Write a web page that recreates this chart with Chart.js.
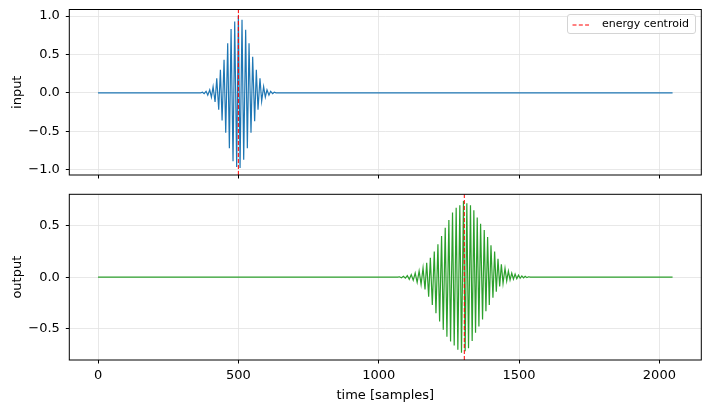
<!DOCTYPE html>
<html>
<head>
<meta charset="utf-8">
<script src="https://cdn.jsdelivr.net/npm/chart.js@4.4.0/dist/chart.umd.min.js"></script>
<style>
  html, body { margin: 0; padding: 0; background: #fff; }
  #wrap { position: relative; width: 710px; height: 412px; font-family: "DejaVu Sans", sans-serif; }
  #wrap canvas { position: absolute; left: 0; }
  #top { top: 0; }
  #bottom { top: 185px; }
  .legend { position: absolute; left: 567px; top: 14px; width: 129px; height: 20px; box-sizing: border-box;
            border: 1px solid #d4d4d4; border-radius: 3px; background: rgba(255,255,255,0.8); color: #000; }
  .legend svg { position: absolute; left: 4px; top: 9px; }
  .legend span { position: absolute; left: 34px; top: 2px; font-size: 11px; line-height: 14px; white-space: nowrap; }
</style>
</head>
<body>
<div id="wrap">
  <canvas id="top" width="710" height="185"></canvas>
  <canvas id="bottom" width="710" height="227"></canvas>
  <div class="legend">
    <svg width="18" height="2"><line x1="0.5" y1="1" x2="17" y2="1" stroke="#ff0000" stroke-width="1" stroke-dasharray="4 2.3"/></svg>
    <span>energy centroid</span>
  </div>
</div>
<script>
// time axis (samples)
const xRange = [-102.35, 2149.35];
const xTicks = [0, 500, 1000, 1500, 2000];

// input: turning points of the burst
const inputTimes = [0, 366, 372, 378, 385, 391, 398, 404, 410, 417, 423, 430, 436, 442, 449, 455, 462, 468, 474, 481, 487, 494,
  500, 506, 513, 519, 526, 532, 538, 545, 551, 558, 564, 570, 577, 583, 590, 596, 602, 609, 615, 622, 628, 634, 2047];
const inputValues = [0, 0, 0.007, -0.012, 0.02, -0.03, 0.04, -0.055, 0.08, -0.12, 0.19, -0.22, 0.30, -0.36, 0.43, -0.52, 0.645, -0.72, 0.83, -0.89, 0.93, -0.965,
  1.0, -0.98, 0.95, -0.87, 0.82, -0.72, 0.645, -0.52, 0.47, -0.37, 0.30, -0.22, 0.19, -0.11, 0.08, -0.055, 0.04, -0.03, 0.02, -0.012, 0.007, 0, 0];
const inputRange = [-1.07, 1.085];
const inputTicks = [-1, -0.5, 0, 0.5, 1];
const inputCentroid = 500;

// output: turning points of the delayed burst, bottom panel
const outputTimes = [0, 1068, 1074, 1081, 1088, 1095, 1102, 1109, 1116, 1123, 1130, 1137, 1144, 1151, 1158, 1165, 1171, 1178, 1184, 1191,
  1198, 1204, 1211, 1217, 1224, 1230, 1237, 1243, 1250, 1256, 1263, 1269, 1276, 1282, 1289, 1295, 1302, 1308, 1314, 1320,
  1327, 1333, 1339, 1345, 1351, 1357, 1363, 1370, 1376, 1382, 1388, 1394, 1400, 1407, 1413, 1419, 1425, 1431, 1437, 1443,
  1450, 1456, 1462, 1468, 1474, 1480, 1486, 1492, 1498, 1504, 1510, 1516, 1522, 1528, 1534, 1540, 2047];
const outputValues = [0, 0, 0.004, -0.005, 0.008, -0.010, 0.015, -0.020, 0.025, -0.030, 0.040, -0.050, 0.060, -0.070, 0.090, -0.12, 0.14, -0.19, 0.19, -0.27,
  0.25, -0.35, 0.32, -0.43, 0.40, -0.51, 0.48, -0.58, 0.556, -0.625, 0.63, -0.665, 0.675, -0.706, 0.70, -0.735, 0.74, -0.72, 0.72, -0.69,
  0.70, -0.62, 0.65, -0.54, 0.58, -0.48, 0.52, -0.41, 0.46, -0.33, 0.39, -0.27, 0.31, -0.20, 0.25, -0.14, 0.18, -0.09, 0.126, -0.06,
  0.087, -0.036, 0.06, -0.027, 0.04, -0.02, 0.03, -0.014, 0.02, -0.01, 0.013, -0.006, 0.008, -0.004, 0.004, 0, 0];
const outputRange = [-0.805, 0.806];
const outputTicks = [-0.5, 0, 0.5];
const outputCentroid = 1305;

Chart.defaults.font.family = "'DejaVu Sans', sans-serif";
Chart.defaults.color = '#000';

// matplotlib-style box round the plot area
const frame = {
  id: 'frame',
  afterDraw(chart) {
    const { ctx, chartArea: a } = chart;
    ctx.save();
    ctx.strokeStyle = '#000';
    ctx.lineWidth = 1;
    ctx.strokeRect(a.left, a.top, a.right - a.left, a.bottom - a.top);
    ctx.restore();
  }
};

const grid = { color: '#e2e2e2', lineWidth: 0.8, tickColor: '#000', tickLength: 3.5, tickWidth: 1 };

function panel(id, o) {
  const points = o.times.map((t, i) => ({ x: t, y: o.values[i] }));
  const centroid = [{ x: o.centroid, y: o.range[0] }, { x: o.centroid, y: o.range[1] }];
  return new Chart(document.getElementById(id), {
    type: 'line',
    data: {
      datasets: [
        { label: 'energy centroid', data: centroid, borderColor: '#ff0000', borderWidth: 1, borderDash: [4, 2], order: 0 },
        { label: o.label, data: points, borderColor: o.color, borderWidth: 1.2, order: 1 },
      ],
    },
    options: {
      responsive: false,
      animation: false,
      events: [],
      elements: { point: { radius: 0 }, line: { tension: 0 } },
      layout: { padding: { left: 0, right: 8.7, top: o.padTop, bottom: 0 } },
      plugins: { legend: { display: false }, tooltip: { enabled: false } },
      scales: {
        x: {
          type: 'linear',
          min: xRange[0],
          max: xRange[1],
          afterBuildTicks: (s) => { s.ticks = xTicks.map((v) => ({ value: v })); },
          afterFit: (s) => { s.height = o.xHeight; s.paddingLeft = 0; s.paddingRight = 0; },
          grid: grid,
          border: { display: false },
          ticks: {
            display: o.showX, autoSkip: false, maxRotation: 0, padding: 4, font: { size: 13 }, color: '#000',
            callback: (v) => String(v),
          },
          title: { display: o.showX, text: 'time [samples]', font: { size: 13 }, color: '#000', padding: { top: 0, bottom: 8.7 } },
        },
        y: {
          type: 'linear',
          min: o.range[0],
          max: o.range[1],
          afterBuildTicks: (s) => { s.ticks = o.ticks.map((v) => ({ value: v })); },
          afterFit: (s) => { s.width = 69.3; s.paddingTop = 0; s.paddingBottom = 0; },
          grid: grid,
          border: { display: false },
          ticks: {
            padding: 6,
            font: { size: 13 },
            color: '#000',
            callback: (v) => v.toFixed(1).replace('-', '\u2212'),
          },
          title: { display: true, text: o.label, font: { size: 13 }, color: '#000', padding: { top: 10.3, bottom: 0 } },
        },
      },
    },
    plugins: [frame],
  });
}

panel('top', {
  label: 'input', color: '#1f77b4', times: inputTimes, values: inputValues,
  range: inputRange, ticks: inputTicks, centroid: inputCentroid,
  padTop: 9.5, xHeight: 10, showX: false,
});

panel('bottom', {
  label: 'output', color: '#2ca02c', times: outputTimes, values: outputValues,
  range: outputRange, ticks: outputTicks, centroid: outputCentroid,
  padTop: 9.3, xHeight: 52, showX: true,
});
</script>
</body>
</html>
